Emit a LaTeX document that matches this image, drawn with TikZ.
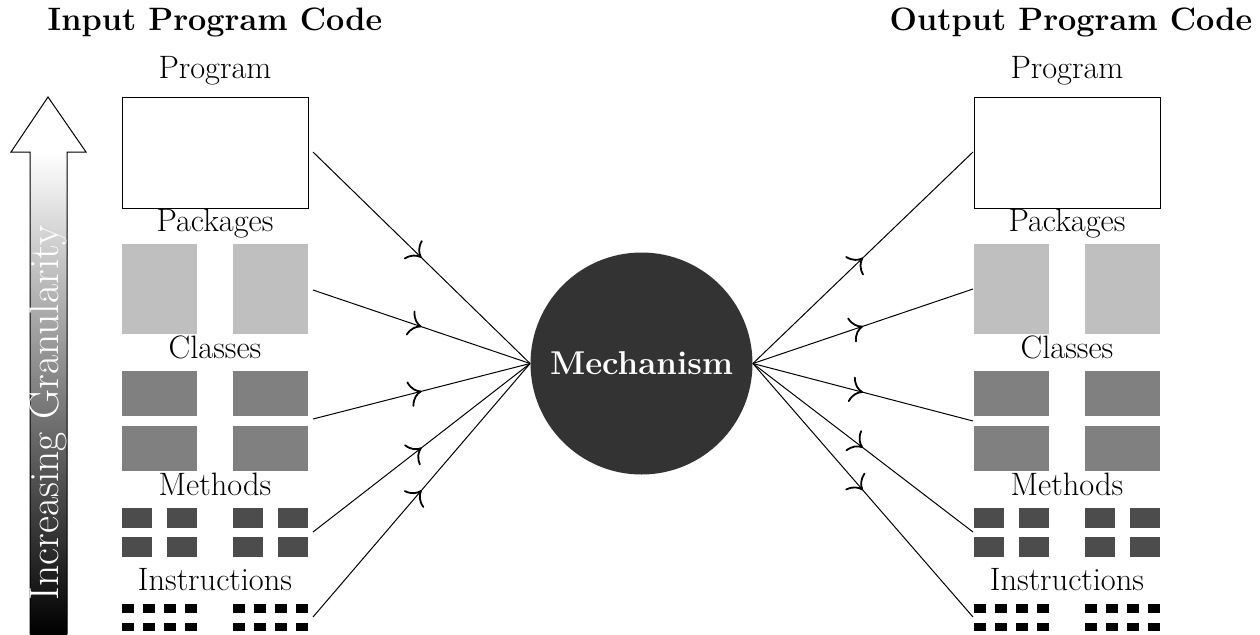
\documentclass[tikz,border=0pt]{standalone}
\usetikzlibrary{decorations.markings,arrows.meta}
\begin{document}
\begin{tikzpicture}[x=0.5pt,y=-0.5pt,
  lbl/.style={font=\fontsize{16.2}{19}\selectfont, anchor=base, inner sep=0pt},
  ttl/.style={font=\fontsize{16.2}{19}\selectfont\bfseries, anchor=base, inner sep=0pt},
  progbox/.style={draw=black, line width=0.5pt},
  pkgbox/.style={fill=black!25},
  clsbox/.style={fill=black!50},
  mthbox/.style={fill=black!70},
  insbox/.style={fill=black},
  flow/.style={line width=0.5pt, postaction={decorate},
    decoration={markings, mark=at position 0.5 with {\arrow{Computer Modern Rightarrow[scale=2.3, line width=0.9pt]}}}}]
\useasboundingbox (0,0) rectangle (1260,634);

% granularity arrow
\fill[white] (11,152) -- (48,97) -- (86,152) -- cycle;
\shade[top color=white, bottom color=black] (30,634) rectangle (67,152);
\draw[line width=0.5pt] (30,634) -- (30,152) -- (11,152) -- (48,97) -- (86,152) -- (67,152) -- (67,634);
\node[rotate=90, text=white, font=\fontsize{20.8}{24}\selectfont, inner sep=0pt] (gran) at (48,413) {Increasing Granularity};

% titles
\node[ttl] (inT) at (215,30) {Input Program Code};
\node[ttl] (outT) at (1071,30) {Output Program Code};

% columns
\foreach \cx/\nm in {122/L,974/R} {
  \node[lbl] (prog\nm) at (\cx+93,78) {Program};
  \draw[progbox] (\cx,97) rectangle (\cx+186,208);
  \node[lbl] (pack\nm) at (\cx+93,231) {Packages};
  \foreach \ox in {0,111} \fill[pkgbox] (\cx+\ox,244) rectangle +(75,90);
  \node[lbl] (cls\nm) at (\cx+93,358) {Classes};
  \foreach \ox in {0,111} \foreach \oy in {371,426} \fill[clsbox] (\cx+\ox,\oy) rectangle +(75,45);
  \node[lbl] (meth\nm) at (\cx+93,495) {Methods};
  \foreach \ox in {0,45,111,156} \foreach \oy in {508,537} \fill[mthbox] (\cx+\ox,\oy) rectangle +(30,20);
  \node[lbl] (instr\nm) at (\cx+93,590) {Instructions};
  \foreach \ox in {0,21,42,63,111,132,153,174} \foreach \oy in {604,622.5} \fill[insbox] (\cx+\ox,\oy) rectangle +(12,8.5);
}

% mechanism
\node[circle, fill=black!80, minimum size=111pt, inner sep=0pt, text=white,
  font=\fontsize{16.5}{20}\selectfont\bfseries] (mech) at (641.5,363.5) {Mechanism};

% connectors
\foreach \yl/\yr [count=\i] in {152/152,290/289,419/421,532/532,617/617} {
  \coordinate (in\i) at (313,\yl);
  \coordinate (out\i) at (973,\yr);
  \draw[flow] (in\i) -- (mech.west);
  \draw[flow] (mech.east) -- (out\i);
}
\end{tikzpicture}
\end{document}
